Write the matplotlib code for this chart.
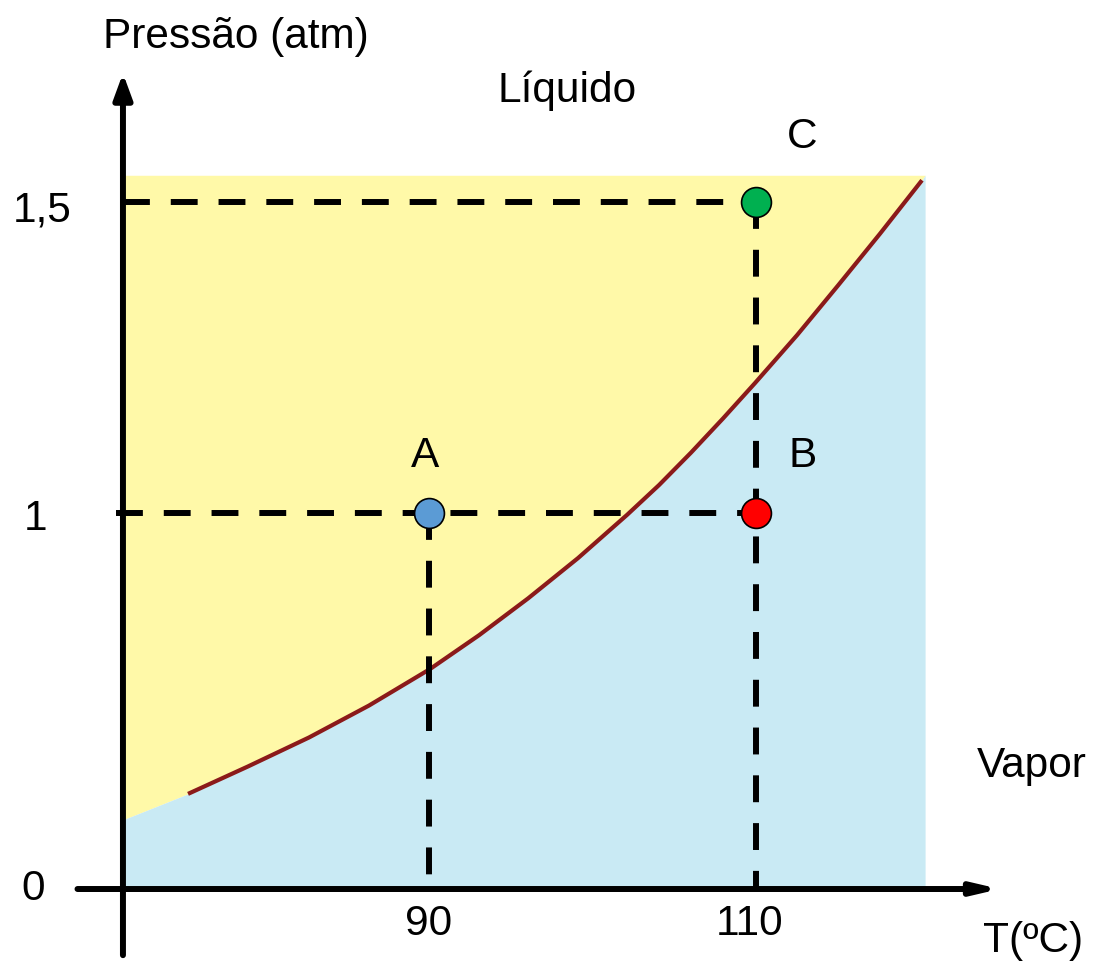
import numpy as np
import matplotlib
matplotlib.use("Agg")
import matplotlib.pyplot as plt

plt.rcParams['font.family'] = ['Liberation Sans', 'DejaVu Sans']

# ---- data ----
curve_T = [75.26, 78.93, 82.66, 86.33, 90.06, 93.06, 96.06, 99.11, 102.11,
           104.07, 106.02, 107.98, 109.94, 112.51, 115.02, 117.58, 120.15]
curve_P = [0.253, 0.326, 0.403, 0.488, 0.585, 0.675, 0.773, 0.880, 0.995,
           1.045, 1.097, 1.152, 1.209, 1.286, 1.366, 1.449, 1.535]
# boundary between regions (curve extended to the frame edges)
bound_T = [71.28] + curve_T + [120.34]
bound_P = [0.184] + curve_P + [1.543]
region_top = 1.543

point_labels = ['A', 'B', 'C']
point_T = [90, 110, 110]
point_P = [1.0, 1.0, 1.5]
point_colors = ['#5B9BD5', '#FF0000', '#00B050']

xtick_vals = [90, 110]
xtick_labels = ['90', '110']
ytick_vals = [0, 1, 1.5]
ytick_labels = ['0', '1', '1,5']

T_axis0 = 71.28

# ---- piecewise-linear pressure scale (schematic axis) ----
def fwd(p):
    p = np.asarray(p, dtype=float)
    return np.where(p <= 1, p * 376.0, 376.0 + (p - 1) * 622.0)

def inv(h):
    h = np.asarray(h, dtype=float)
    return np.where(h <= 376.0, h / 376.0, 1 + (h - 376.0) / 622.0)

fig = plt.figure(figsize=(10.94, 9.63), dpi=100)
ax = fig.add_axes([0, 0, 1, 1])
ax.set_yscale('function', functions=(fwd, inv))
ax.set_xlim(63.76, 130.67)
ax.set_ylim(-0.1968, 1.8248)
ax.axis('off')

# regions
ax.fill_between(bound_T, bound_P, region_top, color='#FFF9A8', lw=0, zorder=1)
ax.fill_between(bound_T, 0, bound_P, color='#C9EAF4', lw=0, zorder=1)

# curve
ax.plot(curve_T, curve_P, color='#8B1A1A', lw=3.0, zorder=3,
        solid_capstyle='butt', solid_joinstyle='round')

# dashed guide lines
dash = dict(color='black', lw=4.3, dashes=(4.5, 3.5), zorder=4)
ax.plot([T_axis0, point_T[2]], [point_P[2], point_P[2]], **dash)
ax.plot([70.85, point_T[1]], [point_P[1], point_P[1]], **dash)
ax.plot([point_T[0], point_T[0]], [point_P[0], 0], **dash)
ax.plot([point_T[2], point_T[2]], [point_P[2], 0], **dash)

# axes with arrows
ax.annotate('', xy=(T_axis0, 1.707), xytext=(T_axis0, -0.176),
            arrowprops=dict(arrowstyle='-|>,head_length=1.5,head_width=0.55',
                            lw=4.3, color='black', shrinkA=0, shrinkB=0,
                            mutation_scale=10), zorder=5)
ax.annotate('', xy=(124.91, 0), xytext=(68.5, 0),
            arrowprops=dict(arrowstyle='-|>,head_length=1.5,head_width=0.35',
                            lw=4.3, color='black', shrinkA=0, shrinkB=0,
                            mutation_scale=10), zorder=5)

# points
for lab, t, p, c in zip(point_labels, point_T, point_P, point_colors):
    ax.plot([t], [p], 'o', ms=21.5, mfc=c, mec='black', mew=1.2, zorder=6)

fs = 30.5
ax.text(89.76, 1.074, 'A', fontsize=fs, ha='center', va='baseline')
ax.text(112.87, 1.074, 'B', fontsize=fs, ha='center', va='baseline')
ax.text(112.81, 1.587, 'C', fontsize=fs, ha='center', va='baseline')
ax.text(98.44, 1.661, 'Líquido', fontsize=fs, ha='center', va='baseline')
ax.text(126.88, 0.298, 'Vapor', fontsize=fs, ha='center', va='baseline')
ax.text(78.20, 1.7476, 'Pressão (atm)', fontsize=fs, ha='center', va='baseline')
ax.text(126.94, -0.1676, 'T(ºC)', fontsize=fs, ha='center', va='baseline')

for v, l in zip(xtick_vals, xtick_labels):
    ax.text(v - (0.37 if v == 110 else 0), -0.122, l, fontsize=fs, ha='center', va='baseline')

ytick_x = [65.78, 65.96, 66.33]
ytick_base = [-0.029, 0.955, 1.468]
for x, yb, l in zip(ytick_x, ytick_base, ytick_labels):
    ax.text(x, yb, l, fontsize=fs, ha='center', va='baseline')

fig.savefig('out.png', dpi=100)
